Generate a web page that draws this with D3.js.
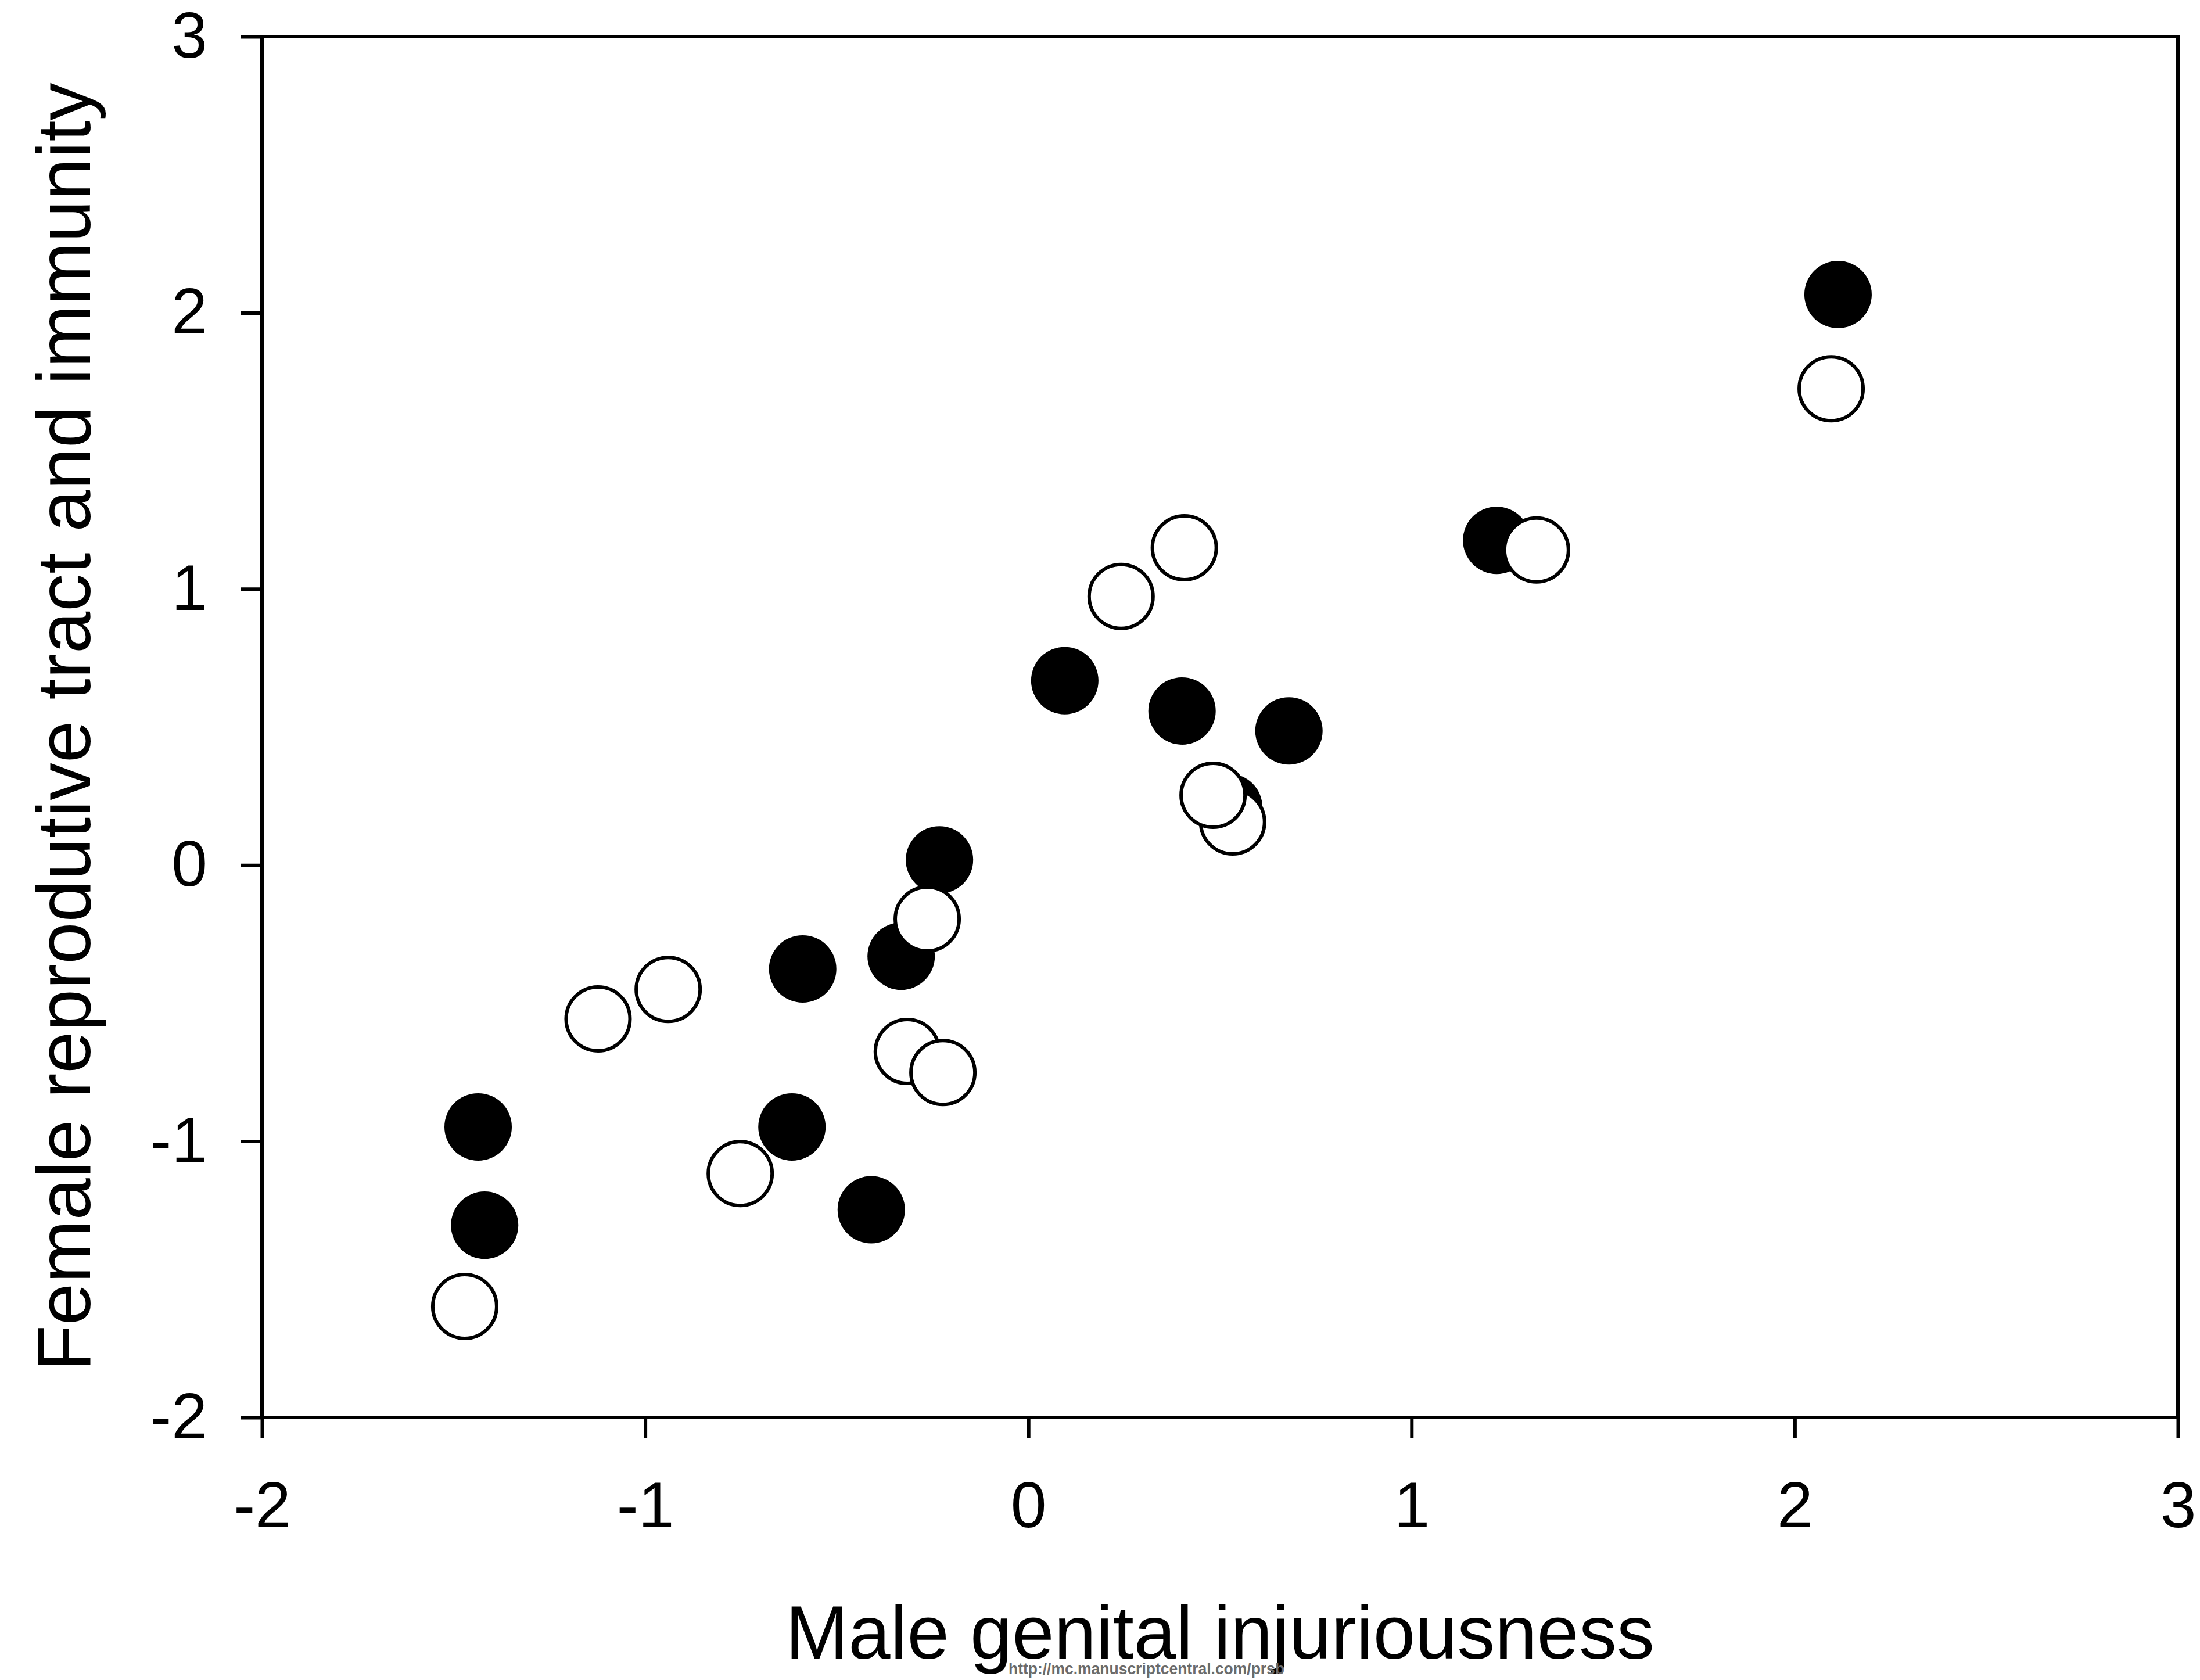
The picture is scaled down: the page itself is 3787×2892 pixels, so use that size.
<!DOCTYPE html>
<html lang="en">
  <head>
    <meta charset="UTF-8" />
    <title>Male genital injuriousness vs female reproductive tract</title>
    <script src="https://d3js.org/d3.v7.min.js"></script>
    <style>
      body {
        margin: 0;
        padding: 0;
        background-color: #fff;
      }
      svg text {
        font-family: Arial, "Liberation Sans", sans-serif;
      }
    </style>
  </head>
  <body>
    <div id="chart"></div>

    <script>
      // data
      const filledX = [2.113, 1.222, 0.095, 0.401, 0.68, 0.523, -0.232, -0.332, -0.589, -0.617, -0.41, -1.436, -1.419];
      const filledY = [2.066, 1.176, 0.668, 0.558, 0.486, 0.209, 0.019, -0.33, -0.376, -0.948, -1.248, -0.948, -1.304];
      const openX = [2.095, 1.326, 0.407, 0.242, 0.533, 0.482, -0.264, -0.316, -0.223, -0.94, -1.123, -0.752, -1.471];
      const openY = [1.725, 1.141, 1.149, 0.973, 0.156, 0.253, -0.195, -0.675, -0.751, -0.45, -0.557, -1.117, -1.598];
      const xTicks = [-2, -1, 0, 1, 2, 3];
      const yTicks = [-2, -1, 0, 1, 2, 3];

      const width = 3787;
      const height = 2892;
      const margin = { top: 63, right: 38, bottom: 452, left: 451 };

      const svg = d3.select("#chart").append("svg").attr("width", width).attr("height", height);

      const x = d3.scaleLinear().domain([-2, 3]).range([margin.left, width - margin.right]);
      const y = d3.scaleLinear().domain([-2, 3]).range([height - margin.bottom, margin.top]);

      const fmt = (d) => String(d);

      // axes
      const xAxis = svg
        .append("g")
        .attr("transform", `translate(0,${height - margin.bottom})`)
        .call(d3.axisBottom(x).tickValues(xTicks).tickFormat(fmt).tickSize(35).tickSizeOuter(0).tickPadding(75));

      const yAxis = svg
        .append("g")
        .attr("transform", `translate(${margin.left},0)`)
        .call(d3.axisLeft(y).tickValues(yTicks).tickFormat(fmt).tickSize(36).tickSizeOuter(0).tickPadding(58));

      [xAxis, yAxis].forEach((g) => {
        g.select(".domain").remove();
        g.selectAll(".tick line").attr("stroke", "#000").attr("stroke-width", 6);
        g.selectAll(".tick text").attr("font-size", 111).attr("fill", "#000");
      });

      // frame
      svg
        .append("rect")
        .attr("x", x(-2))
        .attr("y", y(3))
        .attr("width", x(3) - x(-2))
        .attr("height", y(-2) - y(3))
        .attr("fill", "none")
        .attr("stroke", "#000")
        .attr("stroke-width", 6);

      // filled series first, open circles drawn over them
      svg
        .append("g")
        .selectAll("circle")
        .data(d3.range(filledX.length))
        .enter()
        .append("circle")
        .attr("cx", (i) => x(filledX[i]))
        .attr("cy", (i) => y(filledY[i]))
        .attr("r", 58)
        .attr("fill", "#000");

      svg
        .append("g")
        .selectAll("circle")
        .data(d3.range(openX.length))
        .enter()
        .append("circle")
        .attr("cx", (i) => x(openX[i]))
        .attr("cy", (i) => y(openY[i]))
        .attr("r", 55)
        .attr("fill", "#fff")
        .attr("stroke", "#000")
        .attr("stroke-width", 6);

      // axis titles
      const midX = (x(-2) + x(3)) / 2;
      const midY = (y(-2) + y(3)) / 2;

      svg
        .append("text")
        .attr("x", midX)
        .attr("y", 2855)
        .attr("text-anchor", "middle")
        .attr("font-size", 130)
        .text("Male genital injuriousness");

      svg
        .append("text")
        .attr("transform", `translate(155,${midY}) rotate(-90)`)
        .attr("text-anchor", "middle")
        .attr("font-size", 130)
        .text("Female reprodutive tract and immunity");

      // journal watermark
      svg
        .append("text")
        .attr("x", 1736)
        .attr("y", 2882)
        .attr("font-size", 27)
        .attr("font-weight", "bold")
        .attr("fill", "#6b6b6b")
        .attr("textLength", 475)
        .attr("lengthAdjust", "spacingAndGlyphs")
        .text("http://mc.manuscriptcentral.com/prsb");
    </script>
  </body>
</html>
